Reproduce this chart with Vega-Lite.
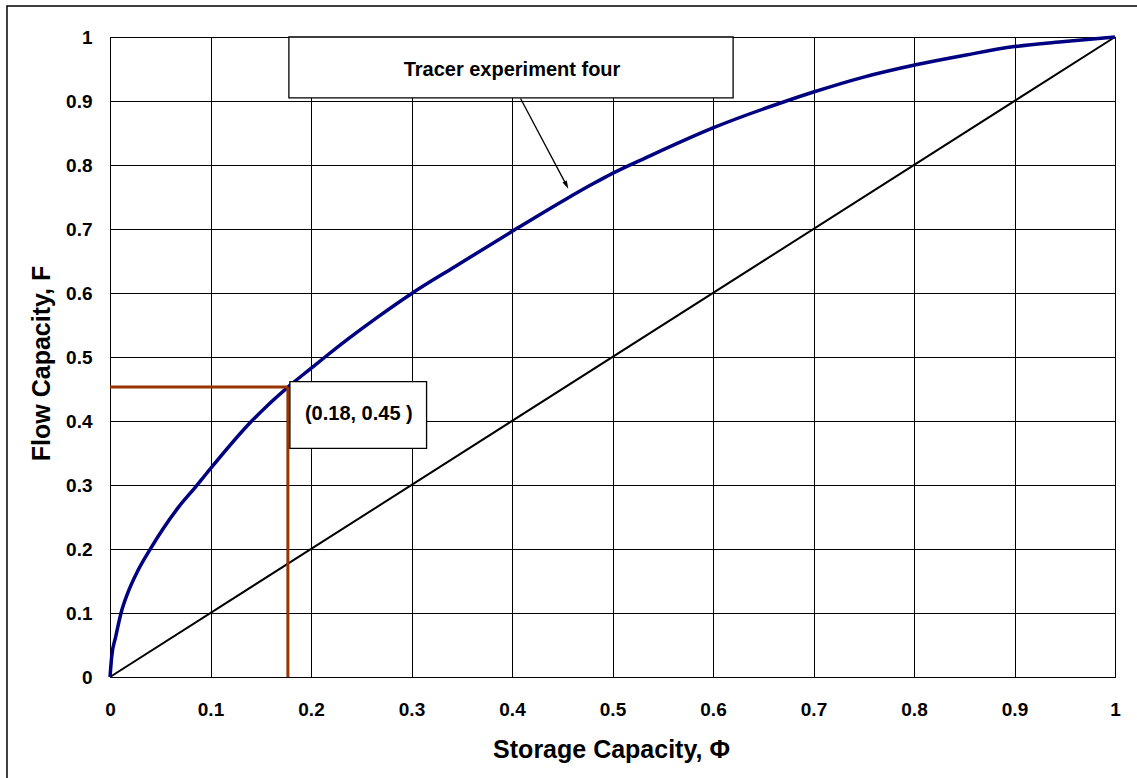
{
  "$schema": "https://vega.github.io/schema/vega-lite/v6.json",
  "width": 1005,
  "height": 640,
  "autosize": "none",
  "padding": {"left": 110, "top": 37, "right": 22, "bottom": 101},
  "background": "white",
  "config": {
    "view": {"stroke": "#808080", "strokeWidth": 1},
    "font": "Liberation Sans",
    "axis": {
      "grid": true, "gridColor": "#000", "gridWidth": 1, "gridOpacity": 1,
      "domainColor": "#000", "domainWidth": 1,
      "ticks": false, "tickSize": 0,
      "labelFont": "Liberation Sans", "labelFontSize": 19, "labelFontWeight": "bold", "labelColor": "#000",
      "titleFont": "Liberation Sans", "titleFontSize": 25, "titleFontWeight": "bold", "titleColor": "#000",
      "labelFlush": false, "labelOverlap": false
    }
  },
  "datasets": {
    "frame": [{"x": -0.1025, "x2": 1.06, "y": 1.0485, "y2": -0.2}],
    "diag": [{"x": 0, "y": 0}, {"x": 1, "y": 1}],
    "curve": [
      {"x": 0, "y": 0},
      {"x": 0.0017, "y": 0.032},
      {"x": 0.0057, "y": 0.063},
      {"x": 0.011, "y": 0.1},
      {"x": 0.0176, "y": 0.131},
      {"x": 0.028, "y": 0.167},
      {"x": 0.0405, "y": 0.201},
      {"x": 0.053, "y": 0.232},
      {"x": 0.068, "y": 0.265},
      {"x": 0.0846, "y": 0.296},
      {"x": 0.096, "y": 0.318},
      {"x": 0.141, "y": 0.4},
      {"x": 0.177, "y": 0.453},
      {"x": 0.199, "y": 0.481},
      {"x": 0.214, "y": 0.5},
      {"x": 0.236, "y": 0.527},
      {"x": 0.267, "y": 0.563},
      {"x": 0.301, "y": 0.6},
      {"x": 0.343, "y": 0.641},
      {"x": 0.405, "y": 0.701},
      {"x": 0.454, "y": 0.747},
      {"x": 0.481, "y": 0.771},
      {"x": 0.5, "y": 0.787},
      {"x": 0.534, "y": 0.812},
      {"x": 0.6, "y": 0.858},
      {"x": 0.673, "y": 0.9},
      {"x": 0.7, "y": 0.914},
      {"x": 0.749, "y": 0.937},
      {"x": 0.803, "y": 0.957},
      {"x": 0.852, "y": 0.972},
      {"x": 0.9, "y": 0.985},
      {"x": 0.95, "y": 0.993},
      {"x": 1, "y": 1}
    ],
    "cut": [
      {"x": 0, "x2": 0.177, "y": 0.453, "y2": 0.453},
      {"x": 0.177, "x2": 0.177, "y": 0, "y2": 0.453}
    ],
    "boxes": [
      {"x": 0.178, "x2": 0.62, "y": 0.905, "y2": 1.0},
      {"x": 0.179, "x2": 0.315, "y": 0.3573, "y2": 0.4614}
    ],
    "arrow": [{"x": 0.4085, "x2": 0.4542, "y": 0.904, "y2": 0.7686}],
    "head": [{"x": 0.4542, "y": 0.7686}],
    "labels": [
      {"x": 0.4, "y": 0.949, "text": "Tracer experiment four"},
      {"x": 0.2476, "y": 0.411, "text": "(0.18, 0.45 )"}
    ]
  },
  "encoding": {
    "x": {
      "field": "x", "type": "quantitative",
      "scale": {"domain": [0, 1], "nice": false, "zero": false},
      "axis": {
        "values": [0, 0.1, 0.2, 0.3, 0.4, 0.5, 0.6, 0.7, 0.8, 0.9, 1],
        "format": "~g", "labelPadding": 23,
        "title": "Storage Capacity, Φ",
        "titleX": 501, "titleY": 80, "titleBaseline": "alphabetic", "titleAlign": "center"
      }
    },
    "y": {
      "field": "y", "type": "quantitative",
      "scale": {"domain": [0, 1], "nice": false, "zero": false},
      "axis": {
        "values": [0, 0.1, 0.2, 0.3, 0.4, 0.5, 0.6, 0.7, 0.8, 0.9, 1],
        "format": "~g", "labelPadding": 18,
        "title": "Flow Capacity, F",
        "titleX": -69, "titleY": 326, "titleAngle": 270, "titleBaseline": "middle", "titleAlign": "center"
      }
    }
  },
  "layer": [
    {
      "data": {"name": "frame"},
      "mark": {"type": "rect", "fillOpacity": 0, "stroke": "#000", "strokeWidth": 1.5, "clip": false},
      "encoding": {"x2": {"field": "x2"}, "y2": {"field": "y2"}}
    },
    {
      "data": {"name": "diag"},
      "mark": {"type": "line", "color": "#000", "strokeWidth": 2},
      "encoding": {}
    },
    {
      "data": {"name": "curve"},
      "mark": {"type": "line", "color": "#000080", "strokeWidth": 3.5, "interpolate": "monotone"},
      "encoding": {}
    },
    {
      "data": {"name": "cut"},
      "mark": {"type": "rule", "color": "#993300", "strokeWidth": 3},
      "encoding": {"x2": {"field": "x2"}, "y2": {"field": "y2"}}
    },
    {
      "data": {"name": "boxes"},
      "mark": {"type": "rect", "fill": "#fff", "stroke": "#000", "strokeWidth": 1.3},
      "encoding": {"x2": {"field": "x2"}, "y2": {"field": "y2"}}
    },
    {
      "data": {"name": "arrow"},
      "mark": {"type": "rule", "color": "#000", "strokeWidth": 1.3},
      "encoding": {"x2": {"field": "x2"}, "y2": {"field": "y2"}}
    },
    {
      "data": {"name": "head"},
      "mark": {"type": "point", "shape": "M-0.6,-1L0.6,-1L0,1Z", "filled": true, "color": "#000", "opacity": 1, "size": 64, "angle": 333},
      "encoding": {}
    },
    {
      "data": {"name": "labels"},
      "mark": {"type": "text", "font": "Liberation Sans", "fontSize": 20, "fontWeight": "bold", "color": "#000", "align": "center", "baseline": "middle"},
      "encoding": {"text": {"field": "text"}}
    }
  ]
}
